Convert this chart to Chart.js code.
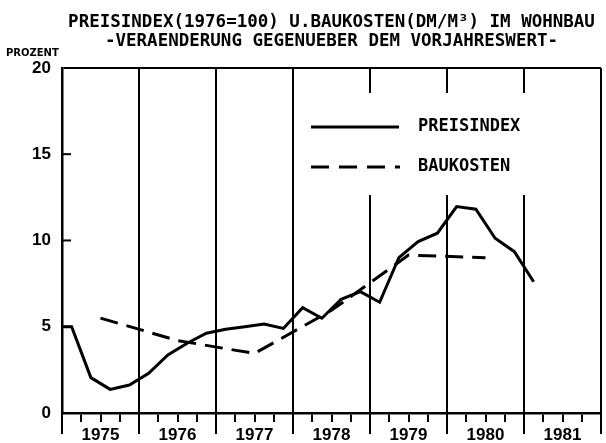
<!DOCTYPE html>
<html>
<head>
<meta charset="utf-8">
<script src="https://cdn.jsdelivr.net/npm/chart.js@4"></script>
<style>
  html, body { margin: 0; padding: 0; background: #fff; }
  #wrap { width: 606px; height: 443px; }
</style>
</head>
<body>
<div id="wrap"><canvas id="myChart" width="606" height="443"></canvas></div>
<script>
// PREISINDEX / BAUKOSTEN IM WOHNBAU
const titleLines = ['PREISINDEX(1976=100) U.BAUKOSTEN(DM/M³) IM WOHNBAU', '-VERAENDERUNG GEGENUEBER DEM VORJAHRESWERT-'];
const yUnit = 'PROZENT';
const yTicks = [0, 5, 10, 15, 20];
const years = [1975, 1976, 1977, 1978, 1979, 1980, 1981];

// quarterly values, change vs. previous year in %
const preisQuarter = ['1974Q4',
    '1975Q1', '1975Q2', '1975Q3', '1975Q4',
    '1976Q1', '1976Q2', '1976Q3', '1976Q4',
    '1977Q1', '1977Q2', '1977Q3', '1977Q4',
    '1978Q1', '1978Q2', '1978Q3', '1978Q4',
    '1979Q1', '1979Q2', '1979Q3', '1979Q4',
    '1980Q1', '1980Q2', '1980Q3', '1980Q4',
    '1981Q1'];
const preisindex = [5.0,
    5.0, 2.05, 1.37, 1.62,
    2.3, 3.36, 4.04, 4.62,
    4.85, 5.0, 5.16, 4.9,
    6.1, 5.49, 6.59, 7.03,
    6.42, 9.0, 9.93, 10.42,
    11.96, 11.81, 10.13, 9.35,
    7.61];

// yearly values
const baukostenYears = [1975, 1976, 1977, 1978, 1979, 1980];
const baukosten = [5.5, 4.2, 3.45, 5.95, 9.15, 9.0];

const quarterToYear = q => Number(q.slice(0, 4)) + (Number(q.slice(5)) - 0.5) / 4;

const extras = {
    id: 'extras',
    afterDatasetsDraw(chart) {
        const ctx = chart.ctx;
        const area = chart.chartArea;
        const xs = chart.scales.x;
        const ys = chart.scales.y;
        ctx.save();

        // legend inside the plot
        ctx.fillStyle = '#fff';
        ctx.fillRect(300, 93, 290, 102);
        ctx.strokeStyle = '#000';
        ctx.lineWidth = 3;
        ctx.beginPath();
        ctx.moveTo(311, 127);
        ctx.lineTo(399, 127);
        ctx.stroke();
        ctx.setLineDash([18, 10]);
        ctx.beginPath();
        ctx.moveTo(311, 167);
        ctx.lineTo(400, 167);
        ctx.stroke();
        ctx.setLineDash([]);
        ctx.fillStyle = '#000';
        ctx.font = 'bold 17px "DejaVu Sans Mono"';
        ctx.textBaseline = 'middle';
        ctx.textAlign = 'left';
        ctx.fillText(chart.data.datasets[0].label, 418, 127);
        ctx.fillText(chart.data.datasets[1].label, 418, 167);

        // inward tick marks on the y axis
        ctx.lineWidth = 2;
        [5, 10, 15].forEach(v => {
            const py = ys.getPixelForValue(v);
            ctx.beginPath();
            ctx.moveTo(area.left, py);
            ctx.lineTo(area.left + 9, py);
            ctx.stroke();
        });

        // year lines run on below the axis
        ctx.lineWidth = 2;
        for (let y = years[0]; y <= years[years.length - 1] + 1; y++) {
            const px = xs.getPixelForValue(y);
            ctx.beginPath();
            ctx.moveTo(px, area.bottom);
            ctx.lineTo(px, area.bottom + 21);
            ctx.stroke();
        }

        ctx.font = 'bold 10px "DejaVu Sans"';
        ctx.textAlign = 'left';
        ctx.fillText(yUnit, 6, 53);
        ctx.restore();
    }
};

const ctx = document.getElementById('myChart').getContext('2d');
const myChart = new Chart(ctx, {
    type: 'line',
    data: {
        datasets: [{
            label: 'PREISINDEX',
            data: preisQuarter.map((q, i) => ({ x: quarterToYear(q), y: preisindex[i] })),
            borderColor: '#000',
            borderWidth: 3,
            pointRadius: 0,
            tension: 0,
            fill: false
        }, {
            label: 'BAUKOSTEN',
            data: baukostenYears.map((y, i) => ({ x: y + 0.5, y: baukosten[i] })),
            borderColor: '#000',
            borderWidth: 3,
            borderDash: [18, 9],
            pointRadius: 0,
            tension: 0,
            fill: false
        }]
    },
    options: {
        responsive: false,
        animation: false,
        layout: { padding: { top: 0, right: 1, bottom: 0, left: 0 } },
        plugins: {
            legend: { display: false },
            tooltip: { enabled: false },
            title: {
                display: true,
                fullSize: false,
                text: titleLines,
                color: '#000',
                font: { family: 'DejaVu Sans Mono', size: 17.5, weight: 'bold', lineHeight: 1.14 },
                padding: { top: 12, bottom: 16 }
            }
        },
        scales: {
            x: {
                type: 'linear',
                min: years[0],
                max: years[years.length - 1] + 1,
                afterFit: s => { s.height = 30; },
                border: { display: true, color: '#000', width: 2.5 },
                grid: {
                    color: c => (Number.isInteger(c.tick.value) ? '#000' : 'rgba(0,0,0,0)'),
                    lineWidth: 2,
                    tickColor: '#000',
                    tickWidth: 2,
                    tickLength: 9
                },
                ticks: {
                    stepSize: 0.25,
                    autoSkip: false,
                    maxRotation: 0,
                    padding: 5,
                    color: '#000',
                    font: { family: 'Liberation Sans', size: 17, weight: 'bold', lineHeight: 1 },
                    callback: v => (Math.abs((v % 1) - 0.5) < 1e-6 ? String(Math.floor(v)) : '')
                }
            },
            y: {
                min: yTicks[0],
                max: yTicks[yTicks.length - 1],
                afterFit: s => { s.width = 62; },
                border: { display: true, color: '#000', width: 2.5 },
                grid: {
                    drawTicks: false,
                    color: c => (c.tick.value === yTicks[yTicks.length - 1] ? '#000' : 'rgba(0,0,0,0)'),
                    lineWidth: 2
                },
                ticks: {
                    stepSize: 5,
                    padding: 11,
                    color: '#000',
                    font: { family: 'Liberation Sans', size: 17, weight: 'bold' }
                }
            }
        }
    },
    plugins: [extras]
});
</script>
</body>
</html>
